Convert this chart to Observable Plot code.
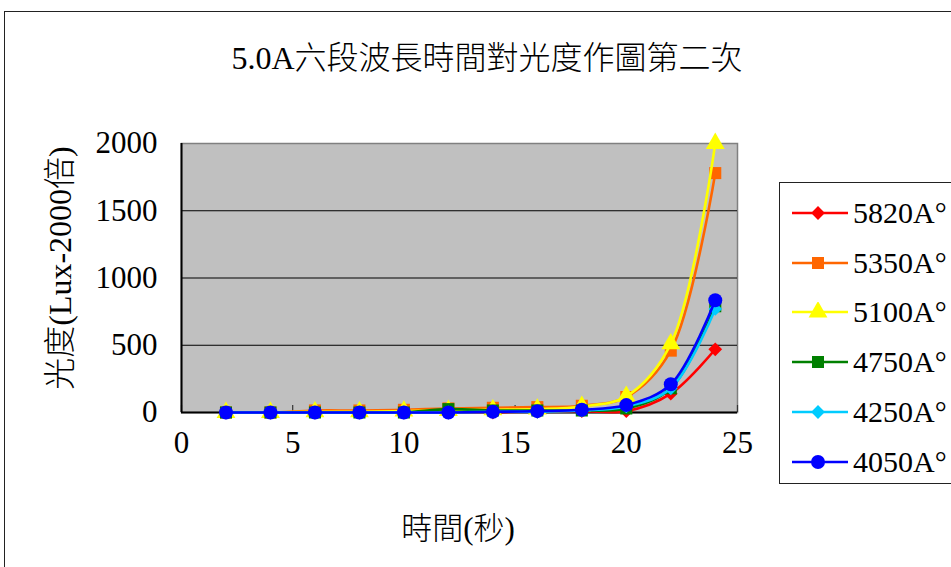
<!DOCTYPE html>
<html>
<head>
<meta charset="utf-8">
<script src="https://cdn.jsdelivr.net/npm/d3@7"></script>
<script src="https://cdn.jsdelivr.net/npm/@observablehq/plot@0.6"></script>
<style>
  body { margin: 0; background: #fff; overflow: hidden; }
  #chart {
    position: relative; width: 951px; height: 567px; overflow: hidden;
    font-family: "Liberation Serif", "Noto Sans CJK TC", serif; color: #000;
  }
  #outer { position: absolute; left: 4px; top: 11px; width: 1100px; height: 700px; border: 1.5px solid #222; }
  #plot { position: absolute; left: 0; top: 0; }
  #title { position: absolute; left: 0; width: 974px; top: 39px; line-height: 38px; text-align: center; font-size: 32px; font-weight: 300; white-space: nowrap; }
  #ylabel { position: absolute; left: 57px; top: 268px; font-size: 32px; font-weight: 300; white-space: nowrap; transform: translate(-50%, -50%) rotate(-90deg); }
  #xlabel { position: absolute; left: 458px; top: 525px; font-size: 31px; font-weight: 300; white-space: nowrap; transform: translate(-50%, -50%); }
  #legend { position: absolute; left: 779px; top: 182px; width: 300px; height: 300px; border: 1.5px solid #222; background: #fff; }
  .entry { position: absolute; left: 10px; height: 40px; display: flex; align-items: center; }
  .entry span { font-size: 30px; margin-left: 3px; }
</style>
</head>
<body>
<div id="chart">
  <div id="outer"></div>
  <div id="plot"></div>
  <div id="title">5.0A六段波長時間對光度作圖第二次</div>
  <div id="ylabel">光度(Lux-2000倍)</div>
  <div id="xlabel">時間(秒)</div>
  <div id="legend"></div>
</div>
<script>
// Sampling times (seconds)
const times = [2, 4, 6, 8, 10, 12, 14, 16, 18, 20, 22, 24];

// Wavelength series names
const seriesNames = ["5820A°", "5350A°", "5100A°", "4750A°", "4250A°", "4050A°"];

// Light intensity (Lux, ×2000) per wavelength
const v5820 = [0, 0, 0, 0, 0, 0, 0, 5, 10, 10, 140, 470];
const v5350 = [0, 0, 15, 15, 20, 30, 35, 40, 50, 115, 460, 1780];
const v5100 = [0, 0, 5, 5, 10, 15, 20, 25, 45, 120, 510, 2000];
const v4750 = [0, 0, 0, 0, 0, 25, 15, 15, 15, 30, 180, 790];
const v4250 = [0, 0, 0, 0, 0, 0, 5, 5, 15, 45, 180, 770];
const v4050 = [0, 0, 0, 0, 0, 0, 5, 10, 20, 55, 210, 835];

// Axis ticks
const xTicks = [0, 5, 10, 15, 20, 25];
const yTicks = [0, 500, 1000, 1500, 2000];
const gridTicks = [500, 1000, 1500];

const seriesValues = [v5820, v5350, v5100, v4750, v4250, v4050];
const colors = ["#ff0000", "#ff6600", "#ffff00", "#008000", "#00ccff", "#0000ff"];
const symbols = ["diamond2", "square", "triangle", "square", "diamond2", "circle"];
const radii = [6.2, 6.8, 7, 6.8, 6.2, 7];

const rows = seriesNames.map((name, i) =>
  times.map((t, j) => ({series: name, t, v: seriesValues[i][j]}))
);

const font = '"Liberation Serif", "Noto Sans CJK TC", serif';
const plain = d3.format("d");

const seriesMarks = rows.flatMap((data, i) => [
  Plot.line(data, {x: "t", y: "v", stroke: colors[i], strokeWidth: 2.6, curve: "catmull-rom"}),
  Plot.dot(data, {x: "t", y: "v", symbol: () => symbols[i], r: radii[i], fill: colors[i], stroke: "none"})
]);

const chart = Plot.plot({
  width: 951,
  height: 567,
  marginLeft: 181,
  marginRight: 214,
  marginTop: 143,
  marginBottom: 155,
  x: {domain: [0, 25], label: null},
  y: {domain: [0, 2000], label: null},
  symbol: {type: "identity"},
  style: {fontFamily: font, fontSize: "31px", color: "#000", background: "transparent", overflow: "visible"},
  marks: [
    Plot.frame({fill: "#c0c0c0", stroke: "#808080", strokeWidth: 1.5}),
    Plot.gridY(gridTicks, {stroke: "#000", strokeOpacity: 1, strokeWidth: 1.2}),
    // short tick marks pointing into the plot area
    Plot.axisX(xTicks, {tickSize: 7, dy: -7, text: null, stroke: "#333", strokeWidth: 1.2, label: null}),
    Plot.axisX(xTicks, {tickSize: 0, tickPadding: 18, fontSize: 31, tickFormat: plain, label: null}),
    Plot.axisY(yTicks, {tickSize: 0, tickPadding: 24, fontSize: 31, tickFormat: plain, label: null}),
    Plot.ruleX([0], {stroke: "#000", strokeWidth: 2}),
    Plot.ruleY([0], {stroke: "#000", strokeWidth: 2}),
    ...seriesMarks
  ]
});
document.getElementById("plot").appendChild(chart);

// Legend: line with marker and wavelength label for each series
const legend = d3.select("#legend");
const symbolTypes = {circle: d3.symbolCircle, square: d3.symbolSquare, triangle: d3.symbolTriangle, diamond2: d3.symbolDiamond2};
seriesNames.forEach((name, i) => {
  const entry = legend.append("div").attr("class", "entry").style("top", `${10 + i * 49.7}px`);
  const svg = entry.append("svg").attr("width", 60).attr("height", 20);
  svg.append("line").attr("x1", 2).attr("x2", 58).attr("y1", 10).attr("y2", 10)
    .attr("stroke", colors[i]).attr("stroke-width", 2.6);
  svg.append("path")
    .attr("transform", "translate(28,10)")
    .attr("d", d3.symbol(symbolTypes[symbols[i]], Math.PI * radii[i] * radii[i])())
    .attr("fill", colors[i]);
  entry.append("span").text(name);
});
</script>
</body>
</html>
